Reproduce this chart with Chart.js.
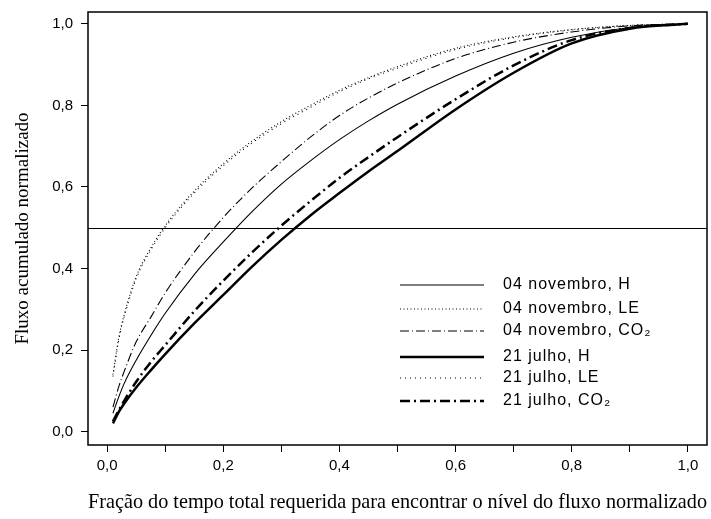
<!DOCTYPE html>
<html>
<head>
<meta charset="utf-8">
<script src="https://cdn.jsdelivr.net/npm/chart.js@4.4.1/dist/chart.umd.min.js"></script>
<style>
  html, body { margin: 0; padding: 0; background: #fff; }
  #wrap { width: 711px; height: 519px; }
</style>
</head>
<body>
<div id="wrap"><canvas id="chart" width="711" height="519"></canvas></div>
<script>
// fração do tempo (eixo x)
const fracTempo = [0.01, 0.02, 0.03, 0.05, 0.075, 0.1, 0.15, 0.2, 0.25, 0.3, 0.35, 0.4, 0.45, 0.5, 0.6, 0.7, 0.8, 0.9, 1.0];

// fluxo acumulado normalizado
const novH   = [0.045, 0.085, 0.12, 0.175, 0.235, 0.29, 0.385, 0.465, 0.54, 0.607, 0.664, 0.716, 0.762, 0.803, 0.872, 0.928, 0.967, 0.991, 1.0];
const novLE  = [0.14, 0.23, 0.29, 0.38, 0.45, 0.505, 0.59, 0.657, 0.713, 0.76, 0.80, 0.837, 0.868, 0.895, 0.94, 0.968, 0.986, 0.996, 1.0];
const novCO2 = [0.06, 0.11, 0.15, 0.22, 0.28, 0.34, 0.44, 0.525, 0.598, 0.662, 0.722, 0.775, 0.818, 0.855, 0.915, 0.955, 0.98, 0.995, 1.0];
const julH   = [0.02, 0.048, 0.07, 0.108, 0.15, 0.19, 0.265, 0.335, 0.405, 0.47, 0.53, 0.585, 0.638, 0.688, 0.79, 0.88, 0.952, 0.988, 1.0];
const julLE  = [0.135, 0.225, 0.285, 0.375, 0.445, 0.50, 0.585, 0.652, 0.708, 0.755, 0.795, 0.833, 0.865, 0.891, 0.937, 0.966, 0.985, 0.996, 1.0];
const julCO2 = [0.025, 0.052, 0.077, 0.122, 0.17, 0.212, 0.295, 0.37, 0.44, 0.505, 0.565, 0.622, 0.673, 0.722, 0.815, 0.898, 0.96, 0.99, 1.0];

const xTicks = [0, 0.1, 0.2, 0.3, 0.4, 0.5, 0.6, 0.7, 0.8, 0.9, 1.0];
const yTicks = [0, 0.2, 0.4, 0.6, 0.8, 1.0];
const refLine = 0.5;

const labels = ["04 novembro, H", "04 novembro, LE", "04 novembro, CO\u2082",
                "21 julho, H", "21 julho, LE", "21 julho, CO\u2082"];
const widths = [1.1, 1.1, 1.1, 2.5, 1.1, 2.5];
const dashes = [[], [1, 2.5], [9, 3, 1, 3], [], [1, 4], [10, 4, 2, 4]];
const series = [novH, novLE, novCO2, julH, julLE, julCO2];

const pts = (arr) => arr.map((v, i) => ({ x: fracTempo[i], y: v }));
const virgula = (v) => v.toFixed(1).replace(".", ",");

const datasets = series.map((s, i) => ({
  label: labels[i],
  data: pts(s),
  borderColor: "#000",
  borderWidth: widths[i],
  borderDash: dashes[i],
  pointRadius: 0,
  cubicInterpolationMode: "monotone",
  fill: false,
}));

// box, 0.5 line and the legend inside the plot
const rowGap = [24, 22, 26, 21, 23];
const extras = {
  id: "extras",
  afterDatasetsDraw(chart) {
    const ctx = chart.ctx;
    const a = chart.chartArea;
    const yS = chart.scales.y;
    ctx.save();
    ctx.strokeStyle = "#000";
    ctx.setLineDash([]);
    ctx.lineWidth = 1.5;
    ctx.strokeRect(a.left, a.top, a.right - a.left, a.bottom - a.top);
    const yr = Math.round(yS.getPixelForValue(refLine)) + 0.5;
    ctx.lineWidth = 1.2;
    ctx.beginPath();
    ctx.moveTo(a.left, yr);
    ctx.lineTo(a.right, yr);
    ctx.stroke();

    // legend
    const x0 = a.left + 312, x1 = a.left + 396, tx = a.left + 415;
    let y = a.top + 273;
    ctx.font = "16px 'Liberation Sans', Arial, sans-serif";
    ctx.letterSpacing = "1px";
    ctx.fillStyle = "#000";
    ctx.textBaseline = "middle";
    labels.forEach((lab, i) => {
      ctx.lineWidth = widths[i];
      ctx.setLineDash(dashes[i]);
      ctx.beginPath();
      ctx.moveTo(x0, y);
      ctx.lineTo(x1, y);
      ctx.stroke();
      ctx.fillText(lab, tx, y);
      y += rowGap[i] || 0;
    });
    ctx.restore();
  },
};

new Chart(document.getElementById("chart"), {
  type: "line",
  data: { datasets: datasets },
  plugins: [extras],
  options: {
    responsive: false,
    animation: false,
    layout: { padding: { top: 12, right: 4, left: 0, bottom: 0 } },
    plugins: { legend: { display: false }, tooltip: { enabled: false } },
    scales: {
      x: {
        type: "linear",
        min: -0.033,
        max: 1.033,
        afterBuildTicks: (s) => { s.ticks = xTicks.map((v) => ({ value: v })); },
        afterFit: (s) => { s.height = 74; s.paddingLeft = 0; s.paddingRight = 0; },
        ticks: {
          color: "#000",
          font: { family: "'Liberation Sans', Arial, sans-serif", size: 15 },
          padding: 5,
          maxRotation: 0,
          autoSkip: false,
          callback: (v) => (Math.round(v * 10) % 2 === 0 ? virgula(v) : ""),
        },
        grid: { drawOnChartArea: false, drawTicks: true, tickLength: 7, color: "#000" },
        border: { display: false },
        title: {
          display: true,
          text: "Fração do tempo total requerida para encontrar o nível do fluxo normalizado",
          color: "#000",
          font: { family: "'Liberation Serif', 'Times New Roman', serif", size: 21 },
          padding: { top: 3 },
        },
      },
      y: {
        type: "linear",
        min: -0.033,
        max: 1.029,
        afterBuildTicks: (s) => { s.ticks = yTicks.map((v) => ({ value: v })); },
        afterFit: (s) => { s.width = 88; s.paddingTop = 0; s.paddingBottom = 0; },
        ticks: {
          color: "#000",
          font: { family: "'Liberation Sans', Arial, sans-serif", size: 15 },
          padding: 8,
          callback: (v) => virgula(v),
        },
        grid: { drawOnChartArea: false, drawTicks: true, tickLength: 7, color: "#000" },
        border: { display: false },
        title: {
          display: true,
          text: "Fluxo acumulado normalizado",
          color: "#000",
          font: { family: "'Liberation Serif', 'Times New Roman', serif", size: 19 },
          padding: { top: 12, bottom: 0 },
        },
      },
    },
  },
});
</script>
</body>
</html>
